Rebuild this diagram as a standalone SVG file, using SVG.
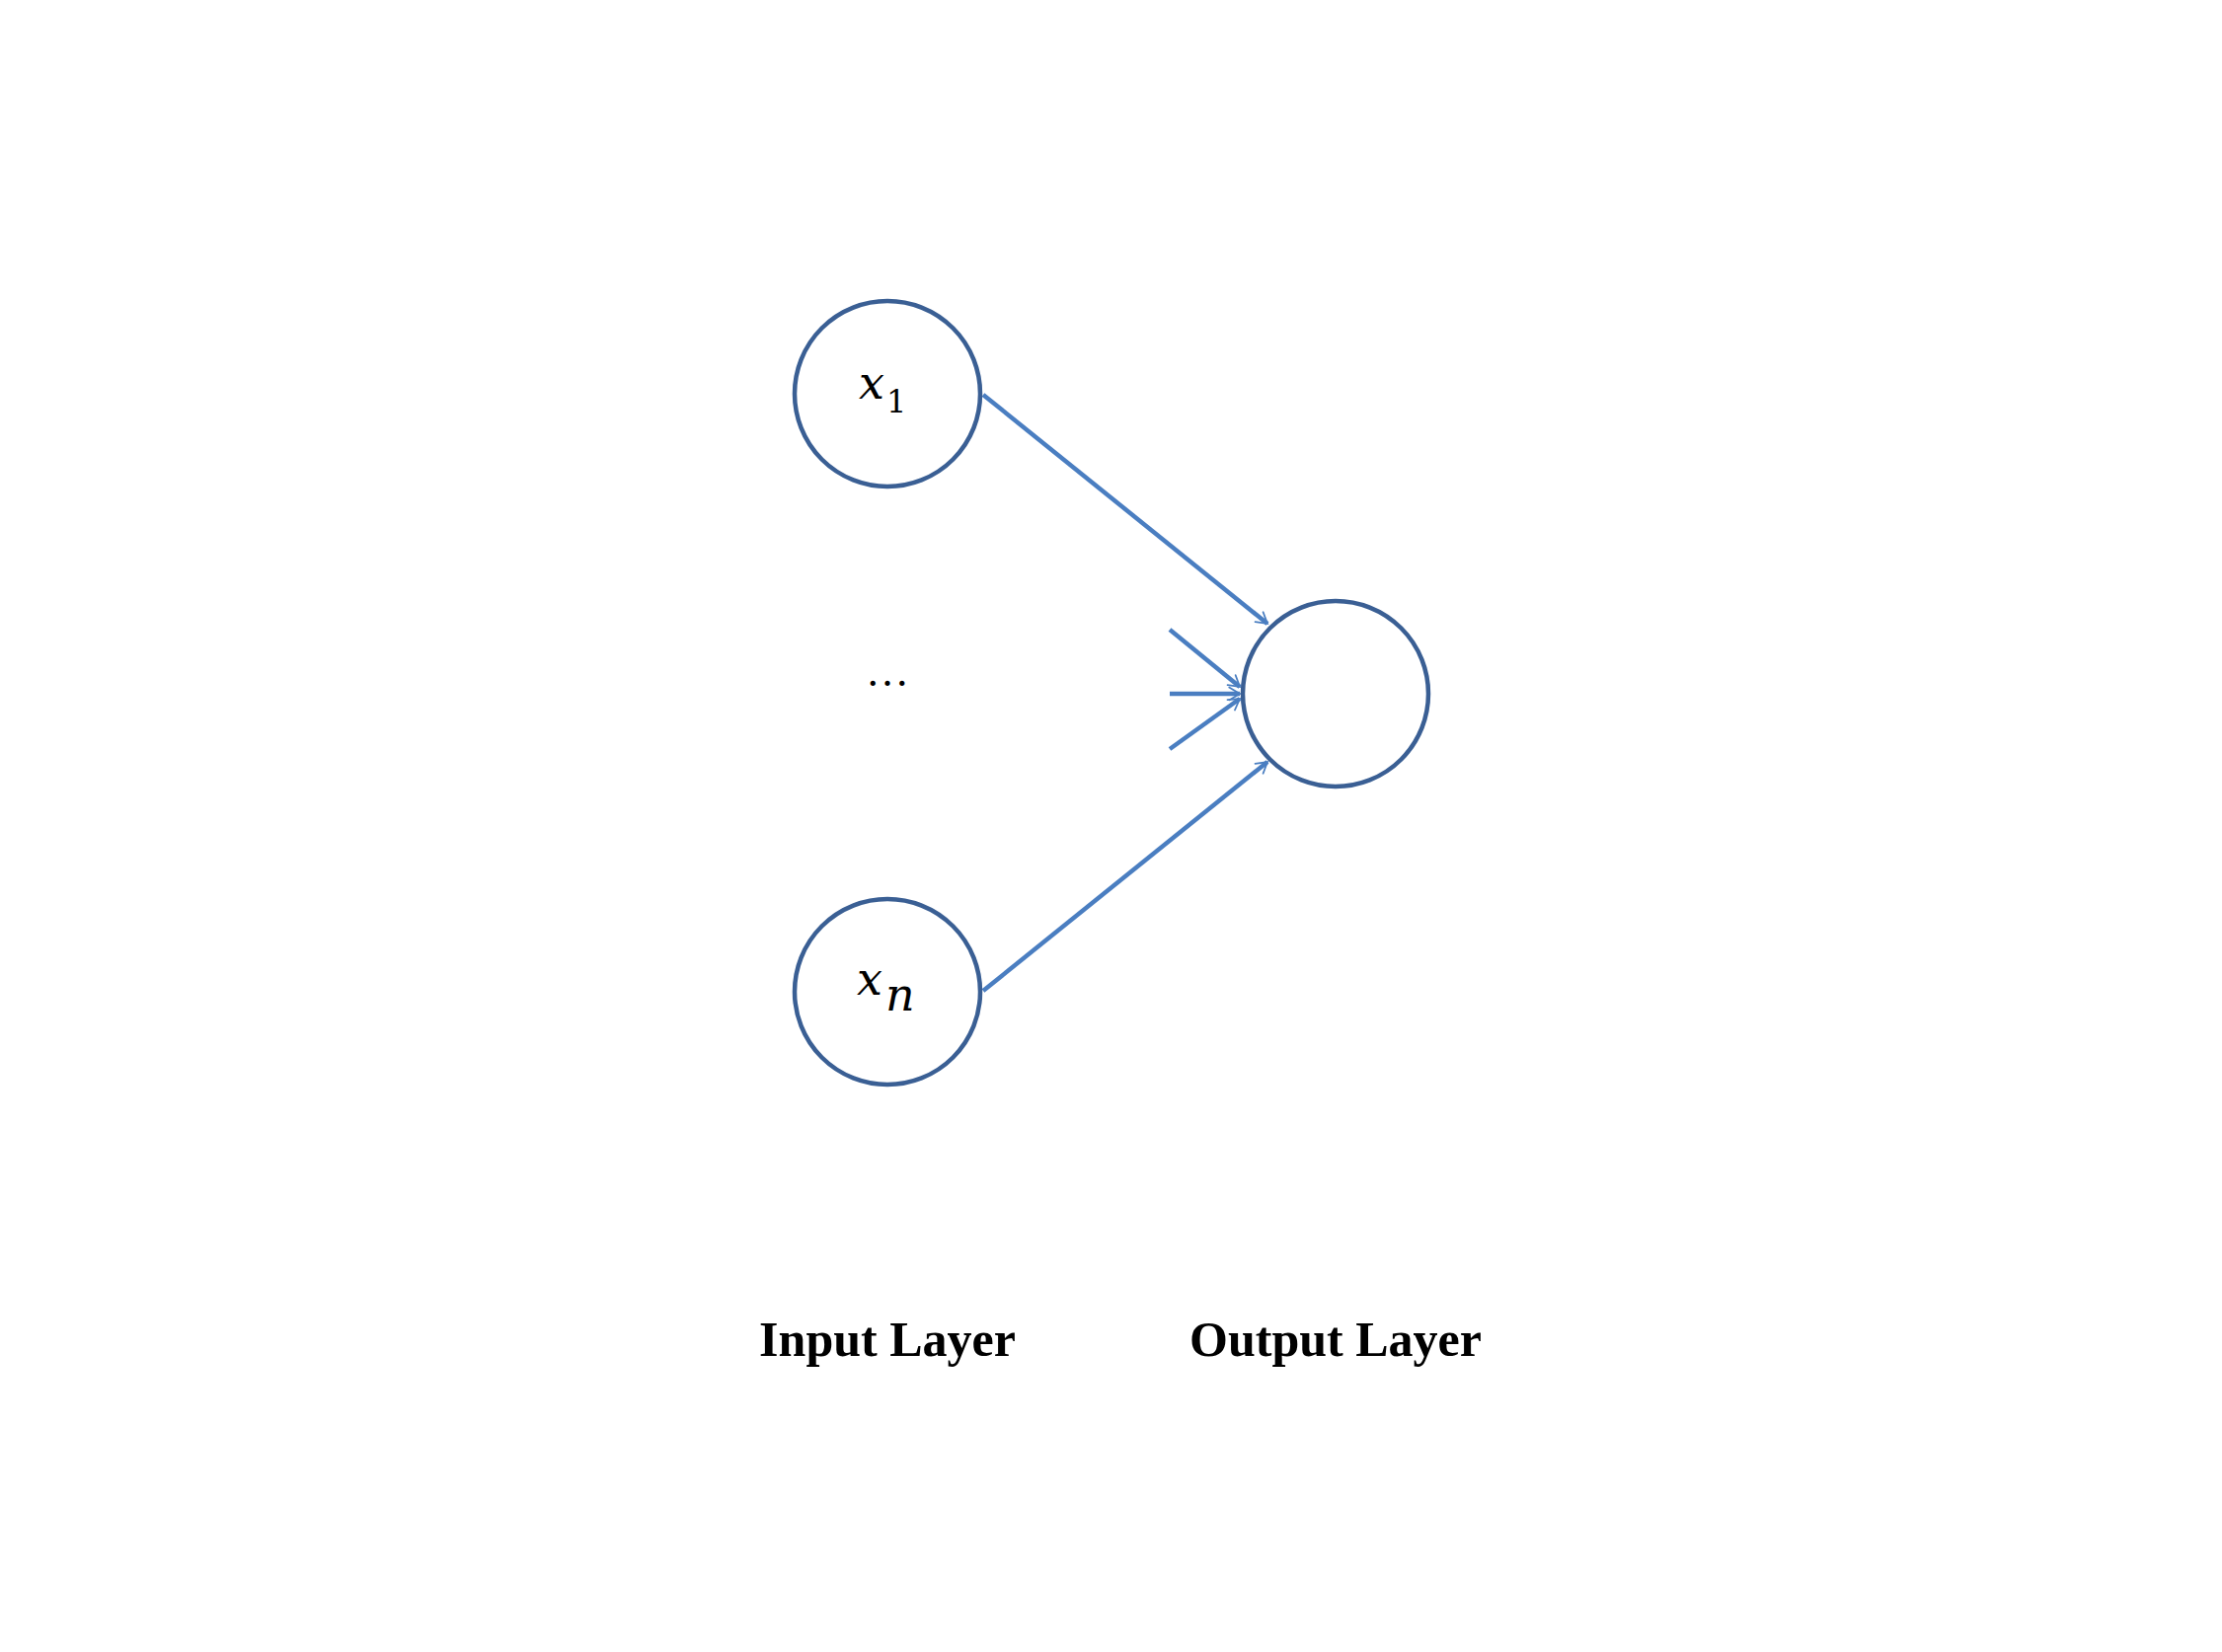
<svg xmlns="http://www.w3.org/2000/svg" width="2251" height="1674" viewBox="0 0 2251 1674">
<style>
.n{fill:#fff;stroke:#3A5F94;stroke-width:4.5}
.e{stroke:#4A7EC1;stroke-width:4.5;fill:none;marker-end:url(#a)}
.m{font-family:"DejaVu Serif","Liberation Serif",serif;font-style:italic;font-size:46px;fill:#000}
.s{font-family:"DejaVu Serif","Liberation Serif",serif;font-size:32px;fill:#000}
.l{font-family:"Liberation Serif",serif;font-weight:bold;font-size:50px;fill:#000;text-anchor:middle}
</style>
<defs>
<marker id="a" viewBox="0 0 20 20" refX="19" refY="10" markerWidth="8" markerHeight="8" orient="auto" markerUnits="userSpaceOnUse" style="overflow:visible">
<path d="M-8,-6 L19,10 L-8,26" transform="scale(1)" fill="none" stroke="#4A7EC1" stroke-width="4.5" stroke-linecap="round"/>
</marker>
</defs>
<rect width="2251" height="1674" fill="#fff"/>
<g id="connectors">
<line class="e" x1="996" y1="400" x2="1284" y2="632"/>
<line class="e" x1="996" y1="1004" x2="1284" y2="772"/>
<line class="e" x1="1185" y1="638" x2="1256" y2="696"/>
<line class="e" x1="1185" y1="703" x2="1256" y2="703"/>
<line class="e" x1="1185" y1="759" x2="1256" y2="708"/>
</g>
<g id="x1"><circle class="n" cx="899" cy="399" r="94"/><text class="m" x="870" y="404">x</text><text class="s" x="898" y="418">1</text></g>
<g id="dots"><text x="899" y="695" text-anchor="middle" font-family="Liberation Serif,serif" font-size="44">…</text></g>
<g id="xn"><circle class="n" cx="899" cy="1005" r="94"/><text class="m" x="868" y="1008">x</text><text class="m" x="897" y="1024" font-size="34">n</text></g>
<g id="out"><circle class="n" cx="1353" cy="703" r="94"/></g>
<g id="labels"><text class="l" x="899" y="1374">Input Layer</text><text class="l" x="1353" y="1374">Output Layer</text></g>
</svg>
